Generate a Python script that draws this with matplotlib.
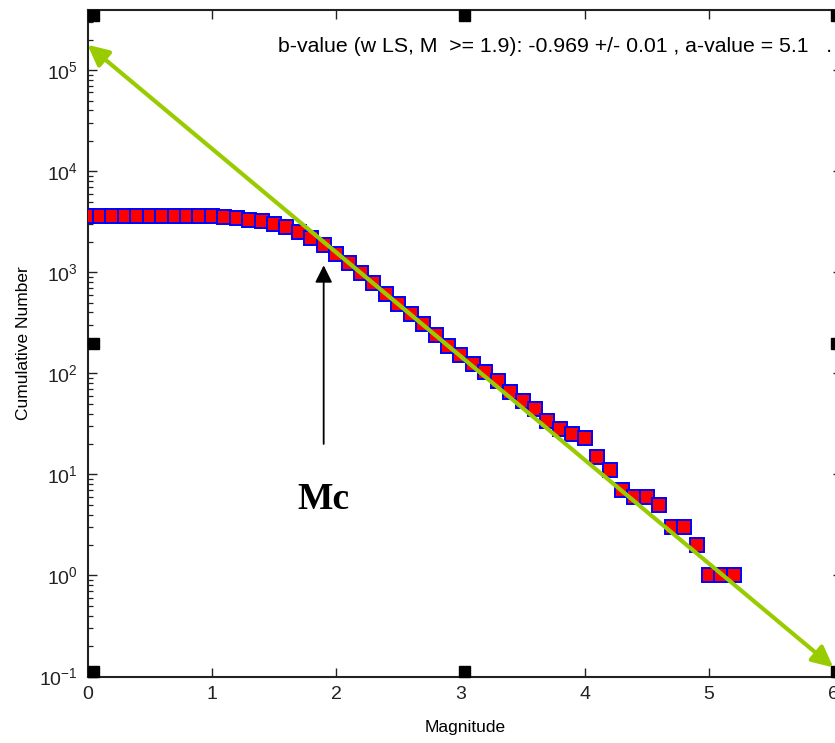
import matplotlib

matplotlib.use("Agg")
import matplotlib.pyplot as plt
import numpy as np
from matplotlib.patches import Rectangle
from matplotlib.ticker import FixedLocator, FuncFormatter, LogLocator, NullFormatter

plt.rcParams["font.family"] = ["Liberation Sans", "DejaVu Sans"]
plt.rcParams["mathtext.fontset"] = "custom"
plt.rcParams["mathtext.rm"] = "Liberation Sans"
plt.rcParams["mathtext.it"] = "Liberation Sans:italic"

# frequency-magnitude distribution, 0.1 magnitude bins
magnitude = [0.0, 0.1, 0.2, 0.3, 0.4, 0.5, 0.6, 0.7, 0.8, 0.9, 1.0,
             1.1, 1.2, 1.3, 1.4, 1.5, 1.6, 1.7, 1.8, 1.9, 2.0,
             2.1, 2.2, 2.3, 2.4, 2.5, 2.6, 2.7, 2.8, 2.9, 3.0,
             3.1, 3.2, 3.3, 3.4, 3.5, 3.6, 3.7, 3.8, 3.9, 4.0,
             4.1, 4.2, 4.3, 4.4, 4.5, 4.6, 4.7, 4.8, 4.9, 5.0,
             5.1, 5.2]
cum_number = [3600, 3600, 3600, 3600, 3600, 3600, 3600, 3600, 3600, 3600, 3600,
              3540, 3430, 3320, 3200, 2990, 2780, 2480, 2170, 1840, 1520,
              1220, 985, 785, 610, 490, 390, 310, 239, 188, 150,
              123, 104, 84, 66, 53, 44, 34, 28, 25, 23,
              15, 11, 7, 6, 6, 5, 3, 3, 2, 1,
              1, 1]

# hand-drawn fit arrow (start / end)
fit_m = [0.0, 6.0]
fit_n = [1.78e5, 0.123]

# Mc marker arrow
mc_value = 1.9
mc_tip, mc_tail, mc_text_n = 1170, 20, 5.7

info_text = "b-value (w LS, M  >= 1.9): -0.969 +/- 0.01 , a-value = 5.1   ."

W, H = 835, 743
fig = plt.figure(figsize=(W / 100, H / 100), dpi=100)
left, right, top, bottom = 87.5, 842.0, 10.0, 676.5
ax = fig.add_axes([left / W, (H - bottom) / H, (right - left) / W, (bottom - top) / H])

ax.semilogy(magnitude, cum_number, "s", mfc="#ff0000", mec="#0000ff", ms=9.6, mew=1.4, zorder=3)

ax.annotate(
    "",
    xy=(fit_m[1], fit_n[1]),
    xytext=(fit_m[0], fit_n[0]),
    arrowprops=dict(arrowstyle="<|-|>,head_length=0.45,head_width=0.22", color="#99cc00",
                    lw=3, mutation_scale=28, shrinkA=0, shrinkB=0),
    zorder=4,
)
ax.annotate(
    "",
    xy=(mc_value, mc_tip),
    xytext=(mc_value, mc_tail),
    arrowprops=dict(arrowstyle="-|>,head_length=0.4,head_width=0.2", color="black",
                    lw=1.3, mutation_scale=26, shrinkA=0, shrinkB=0),
    zorder=5,
)
ax.text(mc_value, mc_text_n, "Mc", family=["Liberation Serif", "DejaVu Serif"], weight="bold",
        fontsize=27, ha="center", va="center")
ax.text(1.533, 1.7e5, info_text, fontsize=15.3, ha="left", va="center", clip_on=False)

ax.set_xlim(0, 6.07)
ax.set_ylim(0.1, 3.93e5)
ax.xaxis.set_major_locator(FixedLocator([0, 1, 2, 3, 4, 5, 6]))
ax.yaxis.set_major_locator(LogLocator(base=10, numticks=20))
ax.yaxis.set_minor_locator(LogLocator(base=10, subs=np.arange(2, 10), numticks=20))
ax.yaxis.set_minor_formatter(NullFormatter())
ax.yaxis.set_major_formatter(FuncFormatter(lambda v, p: f"$10^{{{int(round(np.log10(v)))}}}$"))

ax.tick_params(which="both", direction="in", top=True, right=True, colors="#222222")
ax.tick_params(which="major", length=6.5, width=1.0, labelsize=14, pad=7)
ax.tick_params(which="minor", length=3.6, width=0.9)
for s in ax.spines.values():
    s.set_linewidth(1.5)
    s.set_color("#222222")

ax.set_xlabel("Magnitude", fontsize=12.5, labelpad=12)
ax.set_ylabel("Cumulative Number", fontsize=12.5, labelpad=6)

# selection handles drawn around the axes box
hw = 11.0 / (right - left)
hh = 11.0 / (bottom - top)
for hx, hy in [(0, 0), (0, 1 - hh), (1 - hw, 1 - hh), (1 - hw, 0),
               (0.5 - hw / 2, 0), (0.5 - hw / 2, 1 - hh), (0, 0.5 - hh / 2), (1 - hw, 0.5 - hh / 2)]:
    ax.add_patch(Rectangle((hx, hy), hw, hh, transform=ax.transAxes, color="black",
                           clip_on=False, zorder=6))

fig.savefig("out.png", dpi=100)
